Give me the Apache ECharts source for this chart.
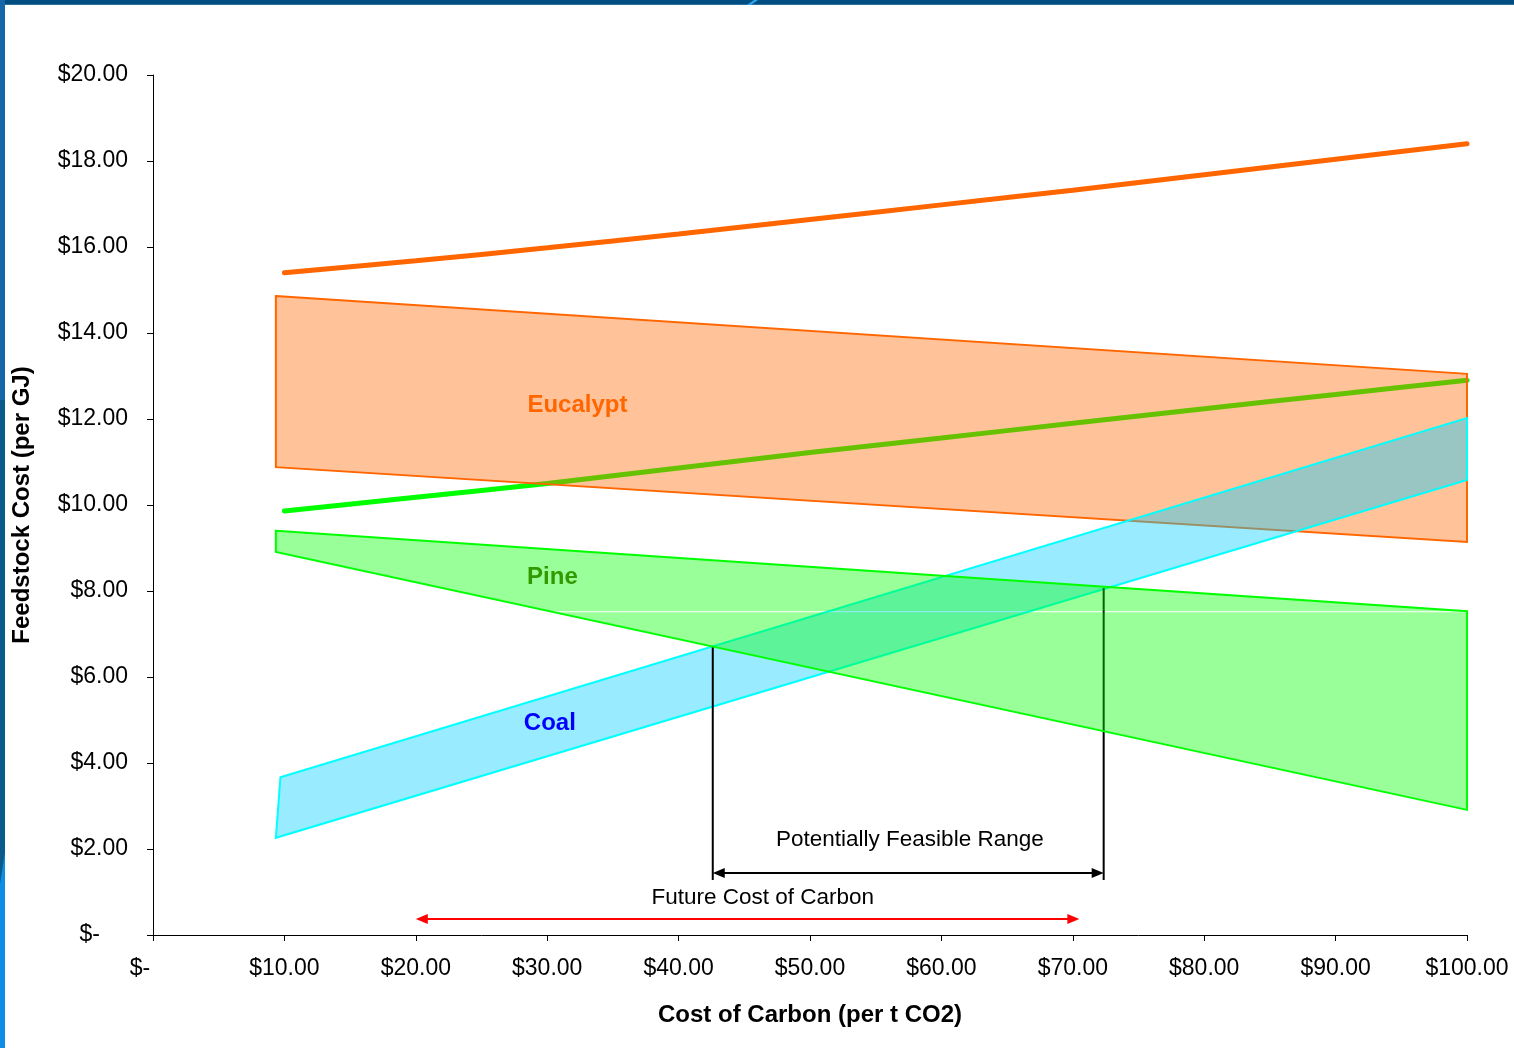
<!DOCTYPE html>
<html>
<head>
<meta charset="utf-8">
<title>Feedstock Cost vs Cost of Carbon</title>
<script src="https://cdn.jsdelivr.net/npm/echarts@6/dist/echarts.min.js"></script>
<style>
  html, body { margin: 0; padding: 0; background: #ffffff; }
  #chart { width: 1514px; height: 1048px; }
</style>
</head>
<body>
<div id="chart"></div>
<script>
// ---- data ----
const carbonCost   = [10, 20, 30, 40, 50, 60, 70, 80, 90, 100];
const eucalyptLine = [15.40, 15.68, 15.98, 16.30, 16.64, 16.98, 17.32, 17.68, 18.04, 18.40];
const pineLine     = [9.86, 10.18, 10.50, 10.86, 11.22, 11.56, 11.90, 12.24, 12.57, 12.90];

// cost bands as [carbon cost, feedstock cost] corners: top-left, top-right, bottom-right, bottom-left
const eucalyptBand = [[9.35, 14.86], [100, 13.05], [100, 9.14], [9.35, 10.88]];
const pineBand     = [[9.35, 9.40], [100, 7.53], [100, 2.91], [9.35, 8.91]];
const coalBand     = [[9.7, 3.67], [100, 12.02], [100, 10.58], [9.35, 2.26]];

// feasible range markers
const feasibleRange = [42.6, 72.35];
const feasibleTops  = [6.72, 8.07];
const feasibleBase  = 1.28;
const feasibleArrowY = 1.44;
const futureCarbonRange = [20, 70.5];
const futureArrowY = 0.37;

// labels
const bandNames   = ['Eucalypt', 'Pine', 'Coal'];
const bandAnchors = [[32.3, 12.31], [30.4, 8.32], [30.2, 4.91]];
const noteTexts   = ['Potentially Feasible Range', 'Future Cost of Carbon'];
const noteAnchors = [[57.6, 2.21], [46.4, 0.86]];

const xTicks = { min: 0, max: 100, interval: 10 };
const yTicks = { min: 0, max: 20, interval: 2 };

// ---- helpers ----
const FONT = 'Liberation Sans, Arial, sans-serif';
const pairs = (xs, ys) => xs.map((x, i) => [x, ys[i]]);
const money = v => v === 0 ? '{z|$-}' : '$' + v.toFixed(2);

function bandSeries(points, fill, stroke, z) {
  return {
    type: 'custom', z: z, silent: true, data: [0],
    renderItem: (params, api) => ({
      type: 'polygon',
      shape: { points: points.map(p => api.coord(p)) },
      style: { fill: fill, stroke: stroke, lineWidth: 2 }
    })
  };
}

// pine band: the fill is laid down in two pieces, split at the level of the
// top-right corner, which leaves a hairline seam across the band
function splitBandSeries(points, fill, stroke, z) {
  return {
    type: 'custom', z: z, silent: true, data: [0],
    renderItem: (params, api) => {
      const [tl, tr, br, bl] = points.map(p => api.coord(p));
      const y0 = tr[1];
      const xAt = (a, b, y) => a[0] + (b[0] - a[0]) * (y - a[1]) / (b[1] - a[1]);
      const gap = 1;
      const upper = [tl, tr, [xAt(bl, br, y0), y0], bl];
      const lower = [[tr[0], y0 + gap], br, [xAt(bl, br, y0 + gap), y0 + gap]];
      return {
        type: 'group',
        children: [
          { type: 'polygon', shape: { points: upper }, style: { fill: fill } },
          { type: 'polygon', shape: { points: lower }, style: { fill: fill } },
          { type: 'polygon', shape: { points: [tl, tr, br, bl] },
            style: { fill: 'none', stroke: stroke, lineWidth: 2 } }
        ]
      };
    }
  };
}

function arrowHeads(from, to, size, half) {
  const dx = to[0] - from[0], dy = to[1] - from[1];
  const len = Math.hypot(dx, dy), ux = dx / len, uy = dy / len;
  const head = (tip, dir) => {
    const bx = tip[0] - dir[0] * size, by = tip[1] - dir[1] * size;
    return [tip, [bx - dir[1] * half, by + dir[0] * half], [bx + dir[1] * half, by - dir[0] * half]];
  };
  return [head(to, [ux, uy]), head(from, [-ux, -uy])];
}

function doubleArrow(range, y, color) {
  return (params, api) => {
    const a = api.coord([range[0], y]);
    const b = api.coord([range[1], y]);
    const heads = arrowHeads(a, b, 12, 5);
    return {
      type: 'group',
      children: [
        { type: 'line', shape: { x1: a[0] + 8, y1: a[1], x2: b[0] - 8, y2: b[1] },
          style: { stroke: color, lineWidth: 2 } },
        { type: 'polygon', shape: { points: heads[0] }, style: { fill: color } },
        { type: 'polygon', shape: { points: heads[1] }, style: { fill: color } }
      ]
    };
  };
}

const chart = echarts.init(document.getElementById('chart'), null, { renderer: 'canvas' });

const axisText = { color: '#000', fontSize: 23, fontFamily: FONT };
const titleText = { color: '#000', fontSize: 24, fontWeight: 'bold', fontFamily: FONT };

chart.setOption({
  animation: false,
  backgroundColor: '#ffffff',
  grid: { left: 153, right: 47, top: 75, bottom: 113, containLabel: false },
  xAxis: {
    type: 'value', min: xTicks.min, max: xTicks.max, interval: xTicks.interval,
    name: 'Cost of Carbon (per t CO2)', nameLocation: 'middle', nameGap: 68,
    nameTextStyle: titleText,
    axisLine: { show: true, lineStyle: { color: '#000', width: 1 } },
    axisTick: { show: true, length: 6, lineStyle: { color: '#000' } },
    splitLine: { show: false },
    axisLabel: Object.assign({}, axisText, {
      margin: 22, formatter: money,
      rich: { z: { fontSize: 23, fontFamily: FONT, color: '#000', padding: [0, 26, 0, 0] } }
    })
  },
  yAxis: {
    type: 'value', min: yTicks.min, max: yTicks.max, interval: yTicks.interval,
    name: 'Feedstock Cost (per GJ)', nameLocation: 'middle', nameGap: 119, nameRotate: 90,
    nameTextStyle: titleText,
    axisLine: { show: true, lineStyle: { color: '#000', width: 1 } },
    axisTick: { show: true, length: 6, lineStyle: { color: '#000' } },
    splitLine: { show: false },
    axisLabel: Object.assign({}, axisText, {
      margin: 25, formatter: money,
      rich: { z: { fontSize: 23, fontFamily: FONT, color: '#000', padding: [0, 28, 0, 0] } }
    })
  },
  graphic: [
    // slide frame
    { type: 'rect', shape: { x: 0, y: 0, width: 1514, height: 5 }, style: { fill: '#004d82' }, z: 100 },
    { type: 'rect', shape: { x: 0, y: 4, width: 1514, height: 1 }, style: { fill: '#2f6f9c' }, z: 100 },
    { type: 'polygon', shape: { points: [[747, 5], [751, 5], [758, 0], [754, 0]] }, style: { fill: '#2aa6ee' }, z: 101 },
    { type: 'rect', shape: { x: 0, y: 0, width: 5, height: 1048 }, style: { fill: '#0a5a8a' }, z: 100 },
    { type: 'rect', shape: { x: 0, y: 0, width: 5, height: 400 }, style: { fill: '#1566a8' }, z: 100 },
    { type: 'polygon', shape: { points: [[5, 852], [5, 1048], [0, 1048], [0, 884]] }, style: { fill: '#0e8de6' }, z: 101 }
  ],
  series: [
    {
      type: 'line', z: 2, smooth: 0.3, symbol: 'none', silent: true,
      data: pairs(carbonCost, pineLine),
      lineStyle: { color: '#00ff00', width: 5, cap: 'round' }
    },
    bandSeries(eucalyptBand, 'rgba(255,102,0,0.4)', '#ff6600', 3),
    bandSeries(coalBand, 'rgba(0,204,255,0.4)', '#00ffff', 4),
    {
      // feasible range verticals and arrow
      type: 'custom', z: 5, silent: true, data: [0],
      renderItem: (params, api) => {
        const kids = feasibleRange.map((x, i) => {
          const top = api.coord([x, feasibleTops[i]]);
          const bot = api.coord([x, feasibleBase]);
          return { type: 'line', shape: { x1: top[0], y1: top[1], x2: bot[0], y2: bot[1] },
                   style: { stroke: '#000', lineWidth: 2 } };
        });
        kids.push(doubleArrow(feasibleRange, feasibleArrowY, '#000')(params, api));
        return { type: 'group', children: kids };
      }
    },
    splitBandSeries(pineBand, 'rgba(0,255,0,0.4)', '#00ff00', 6),
    {
      type: 'line', z: 7, smooth: 0.3, symbol: 'none', silent: true,
      data: pairs(carbonCost, eucalyptLine),
      lineStyle: { color: '#ff6600', width: 5, cap: 'round' }
    },
    {
      type: 'custom', z: 8, silent: true, data: [0],
      renderItem: doubleArrow(futureCarbonRange, futureArrowY, '#ff0000')
    },
    {
      // band names and notes
      type: 'custom', z: 9, silent: true, data: [0],
      renderItem: (params, api) => {
        const colors = ['#ff6600', '#339900', '#0000ff'];
        const kids = bandNames.map((t, i) => {
          const p = api.coord(bandAnchors[i]);
          return { type: 'text', x: p[0], y: p[1],
                   style: { text: t, fill: colors[i], fontSize: 24, fontWeight: 'bold', fontFamily: FONT,
                            align: 'center', verticalAlign: 'middle' } };
        });
        noteTexts.forEach((t, i) => {
          const p = api.coord(noteAnchors[i]);
          kids.push({ type: 'text', x: p[0], y: p[1],
                      style: { text: t, fill: '#000', fontSize: 22.5, fontFamily: FONT,
                               align: 'center', verticalAlign: 'middle' } });
        });
        return { type: 'group', children: kids };
      }
    }
  ]
});
</script>
</body>
</html>
